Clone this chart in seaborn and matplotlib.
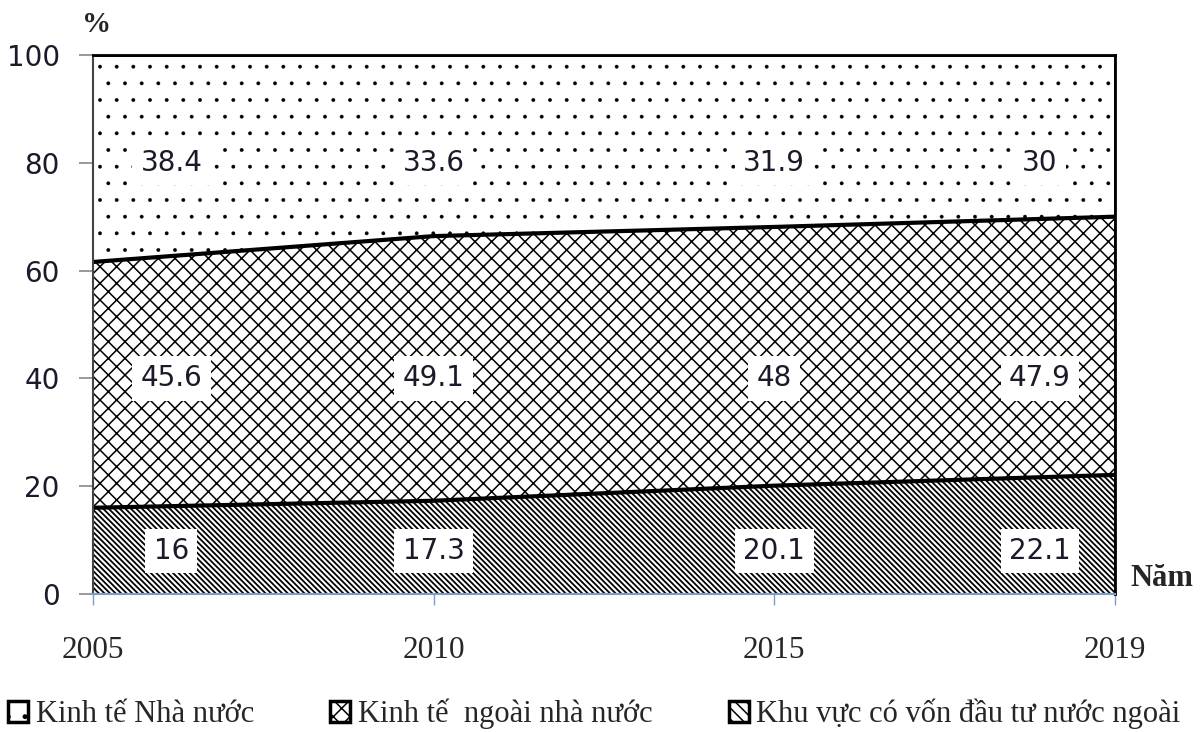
import numpy as np
import pandas as pd
import matplotlib
matplotlib.use("Agg")
import matplotlib.pyplot as plt
import seaborn as sns
from matplotlib.patches import Patch

# du lieu doc tu bieu do
nam = ["2005", "2010", "2015", "2019"]
nha_nuoc = [38.4, 33.6, 31.9, 30]
ngoai_nha_nuoc = [45.6, 49.1, 48, 47.9]
von_nuoc_ngoai = [16, 17.3, 20.1, 22.1]

ten_nhom = ["Kinh tế Nhà nước", "Kinh tế  ngoài nhà nước",
            "Khu vực có vốn đầu tư nước ngoài"]

# vi tri nhan (khong phai du lieu)
nhan_x = [0.23, 1, 2, 2.78]
nhan_y = [8, 40, 80]

sns.set_theme(style="white")
plt.rcParams["hatch.linewidth"] = 1.1


def hatch_lw(artist, lw):
    # do day net hatch rieng cho tung vung
    if hasattr(artist, "set_hatch_linewidth"):
        artist.set_hatch_linewidth(lw)
    orig = artist.draw

    def draw(renderer):
        with plt.rc_context({"hatch.linewidth": lw}):
            orig(renderer)
    artist.draw = draw


fig = plt.figure(figsize=(12.03, 7.32), dpi=100)
ax = fig.add_axes([93 / 1203, 1 - 594 / 732, (1115 - 93) / 1203, (594 - 55) / 732])

x = np.arange(len(nam))
df = pd.DataFrame({"x": x, "nn": von_nuoc_ngoai, "ng": ngoai_nha_nuoc, "nhn": nha_nuoc})
df["b1"] = df["nn"]
df["b2"] = df["nn"] + df["ng"]
df["b3"] = df["b2"] + df["nhn"]

hatches = ["\\\\\\\\\\\\", "xx", "."]
polys = ax.stackplot(df["x"], df["nn"], df["ng"], df["nhn"],
                     colors=["white"] * 3, edgecolor="black", linewidth=1.2)
for p, h, lw in zip(polys, hatches, [1.3, 1.1, 0.3]):
    p.set_hatch(h)
    hatch_lw(p, lw)

for col, lw in [("b1", 3), ("b2", 3), ("b3", 2)]:
    sns.lineplot(data=df, x="x", y=col, color="black", linewidth=lw, ax=ax, legend=False)

# nhan gia tri
for series, yy in zip([von_nuoc_ngoai, ngoai_nha_nuoc, nha_nuoc], nhan_y):
    for xi, v in zip(nhan_x, series):
        ax.text(xi, yy, f"{v:g}", ha="center", va="center", fontsize=20,
                color="#1a1a2a", family="DejaVu Sans",
                bbox=dict(boxstyle="square,pad=0.3", fc="white", ec="none"))

ax.set_xlim(0, 3)
ax.set_ylim(0, 100)
ax.set_xticks(x)
ax.set_xticklabels(nam, family="Liberation Serif", fontsize=22.5)
ax.set_yticks([0, 20, 40, 60, 80, 100])
ax.set_yticklabels(["0", "20", "40", "60", "80", "100"], fontsize=20, family="DejaVu Sans",
                   color="#1a1a2a")
ax.tick_params(axis="y", length=10, width=1.2, color="#888888", pad=14, left=True)
ax.tick_params(axis="x", length=8, width=1, color="#7a9cc6", pad=22, bottom=True, direction="out")
ax.set_xlabel("")
ax.set_ylabel("")

for s in ["top", "right"]:
    ax.spines[s].set_visible(True)
    ax.spines[s].set_color("black")
    ax.spines[s].set_linewidth(2)
ax.spines["left"].set_color("#444444")
ax.spines["left"].set_linewidth(1.5)
ax.spines["bottom"].set_color("#7a9cc6")
ax.spines["bottom"].set_linewidth(1.5)

fig.text(97 / 1203, 1 - 24 / 732, "%", family="Liberation Serif", fontweight="bold",
         fontsize=21, ha="center", va="center")
fig.text(1162 / 1203, 1 - 578 / 732, "Năm", family="Liberation Serif", fontweight="bold",
         fontsize=22, ha="center", va="center")

handles = [Patch(facecolor="white", edgecolor="black", hatch=h, linewidth=2.5)
           for h in [".", "xx", "\\\\\\"]]
fig.legend(handles, ten_nhom, loc="center left", bbox_to_anchor=(8 / 1203, 1 - 714 / 732),
           ncol=3, frameon=False, prop={"family": "Liberation Serif", "size": 22},
           handlelength=0.65, handleheight=0.65, handletextpad=0.25, columnspacing=2.5,
           borderaxespad=0, borderpad=0)

fig.savefig("out.png", dpi=100)
